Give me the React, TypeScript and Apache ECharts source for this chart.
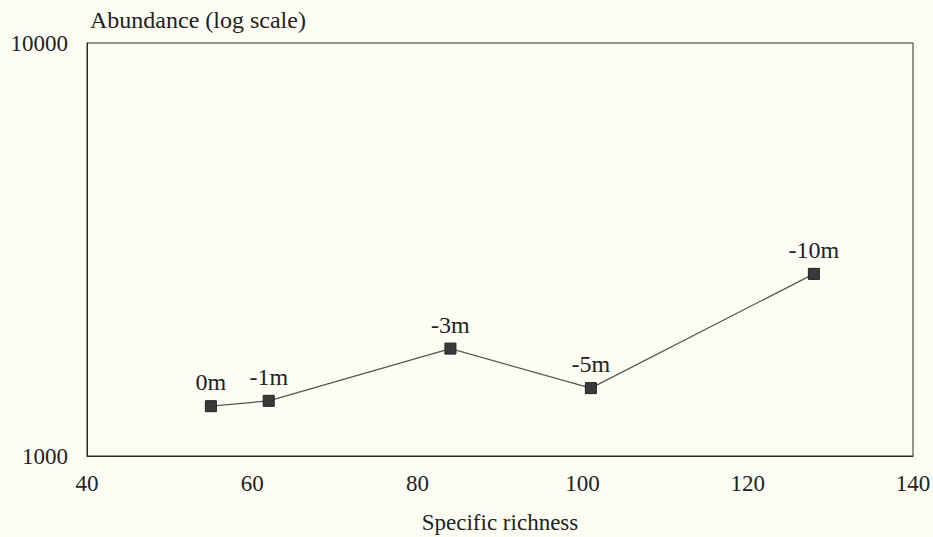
import React, { useEffect, useRef } from "react";
import * as echarts from "echarts";

const depthLabels = ["0m", "-1m", "-3m", "-5m", "-10m"];
const richness = [55, 62, 84, 101, 128];
const abundance = [1320, 1360, 1820, 1460, 2760];
const xTicks = [40, 60, 80, 100, 120, 140];

const FONT = "Times New Roman, Liberation Serif, serif";
const FS = 23;

export default function App() {
  const ref = useRef<HTMLDivElement>(null);
  useEffect(() => {
    if (!ref.current) return;
    const chart = echarts.init(ref.current, undefined, { renderer: "svg" });
    chart.setOption({
      animation: false,
      backgroundColor: "#fdfdf4",
      textStyle: { fontFamily: FONT },
      grid: {
        left: 87,
        right: 20,
        top: 43,
        bottom: 81,
        show: true,
        borderColor: "#2a2a2a",
        borderWidth: 1,
        backgroundColor: "transparent",
        outerBoundsMode: "none",
        containLabel: false,
      },
      graphic: [
        {
          type: "text",
          left: 90,
          top: 8,
          style: {
            text: "Abundance (log scale)",
            fontSize: 24,
            fontFamily: FONT,
            fill: "#222",
          },
        },
      ],
      xAxis: {
        type: "value",
        min: xTicks[0],
        max: xTicks[xTicks.length - 1],
        interval: 20,
        name: "Specific richness",
        nameLocation: "middle",
        nameGap: 55,
        nameTextStyle: { fontSize: 23, color: "#222", fontFamily: FONT },
        axisLine: { show: true, lineStyle: { color: "#2a2a2a" } },
        axisTick: { show: false },
        splitLine: { show: false },
        axisLabel: { fontSize: FS, color: "#222", margin: 16, fontFamily: FONT },
      },
      yAxis: {
        type: "log",
        logBase: 10,
        min: 1000,
        max: 10000,
        axisLine: { show: true, lineStyle: { color: "#2a2a2a" } },
        axisTick: { show: false },
        splitLine: { show: false },
        axisLabel: {
          fontSize: FS,
          color: "#222",
          margin: 19,
          fontFamily: FONT,
          formatter: (v: number) => String(Math.round(v)),
        },
      },
      series: [
        {
          type: "line",
          data: richness.map((x, i) => ({ value: [x, abundance[i]], name: depthLabels[i] })),
          symbol: "rect",
          symbolSize: 11,
          itemStyle: { color: "#3a3a3a", borderColor: "#222", borderWidth: 1 },
          lineStyle: { color: "#555", width: 1.2 },
          label: {
            show: true,
            position: "top",
            distance: 6,
            formatter: (p: any) => p.name,
            fontSize: 24,
            color: "#222",
            fontFamily: FONT,
          },
        },
      ],
    });
    return () => chart.dispose();
  }, []);
  return (
    <div
      ref={ref}
      style={{ position: "fixed", left: 0, top: 0, width: 933, height: 537 }}
    />
  );
}
